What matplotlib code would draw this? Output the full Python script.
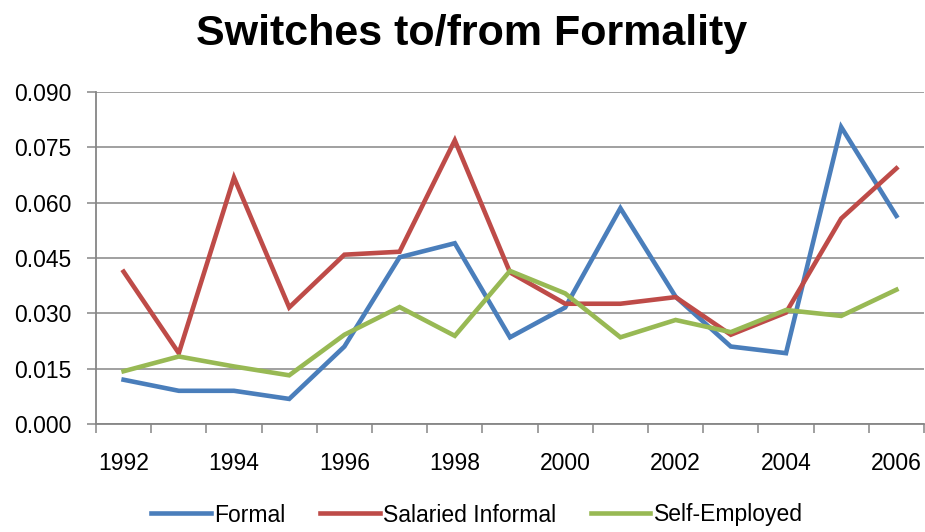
import matplotlib
matplotlib.use('Agg')
import matplotlib.pyplot as plt
from matplotlib.ticker import FixedLocator, FormatStrFormatter

plt.rcParams['font.family'] = ['Liberation Sans', 'DejaVu Sans']

# data
years = list(range(1992, 2007))
formal = [0.0120, 0.0090, 0.0090, 0.0068, 0.0210, 0.0452, 0.0490, 0.0235,
          0.0316, 0.0585, 0.0345, 0.0210, 0.0192, 0.0805, 0.0564]
salaried_informal = [0.0413, 0.0192, 0.0668, 0.0316, 0.0459, 0.0467, 0.0769, 0.0411,
                     0.0326, 0.0326, 0.0344, 0.0242, 0.0302, 0.0557, 0.0693]
self_employed = [0.0143, 0.0183, 0.0156, 0.0132, 0.0242, 0.0317, 0.0239, 0.0415,
                 0.0354, 0.0235, 0.0282, 0.0249, 0.0309, 0.0293, 0.0364]
series_names = ['Formal', 'Salaried Informal', 'Self-Employed']
colors = ['#4A7EBB', '#BE4B48', '#98B954']

fig = plt.figure(figsize=(9.25, 5.32), dpi=100)
ax = fig.add_axes([96 / 925, 1 - 424 / 532, 828 / 925, 332 / 532])

x = list(range(len(years)))
for vals, name, c in zip([formal, salaried_informal, self_employed], series_names, colors):
    ax.plot(x, vals, color=c, lw=3.3, label=name, solid_joinstyle='miter', zorder=3)

ax.set_xlim(-0.5, len(years) - 0.5)
ax.set_ylim(0, 0.090)
ax.set_yticks([i * 0.015 for i in range(7)])
ax.yaxis.set_major_formatter(FormatStrFormatter('%.3f'))

# labels every other year, tick marks between categories
ax.set_xticks(x[::2])
ax.set_xticklabels([str(y) for y in years[::2]])
ax.xaxis.set_minor_locator(FixedLocator([i - 0.5 for i in range(len(years) + 1)]))

grid_c = '#868686'
ax.grid(axis='y', color=grid_c, lw=1.1, zorder=0)
for s in ['top', 'right']:
    ax.spines[s].set_visible(False)
for s in ['left', 'bottom']:
    ax.spines[s].set_color(grid_c)
    ax.spines[s].set_linewidth(1.3)

ax.tick_params(axis='y', length=6.5, width=1.1, color=grid_c, pad=11, labelsize=16.5)
ax.tick_params(axis='x', which='major', length=0, pad=20, labelsize=16.5)
ax.tick_params(axis='x', which='minor', length=6.5, width=1.1, color=grid_c)

fig.text(472 / 925, 1 - 45 / 532, 'Switches to/from Formality', ha='center',
         va='baseline', fontsize=31, fontweight='bold')

fig.legend(loc='center', bbox_to_anchor=(477 / 925, 1 - 515 / 532), ncol=3,
           frameon=False, fontsize=16.5, handlelength=2.6, handletextpad=0.15,
           columnspacing=1.5)

fig.savefig('out.png', dpi=100)
